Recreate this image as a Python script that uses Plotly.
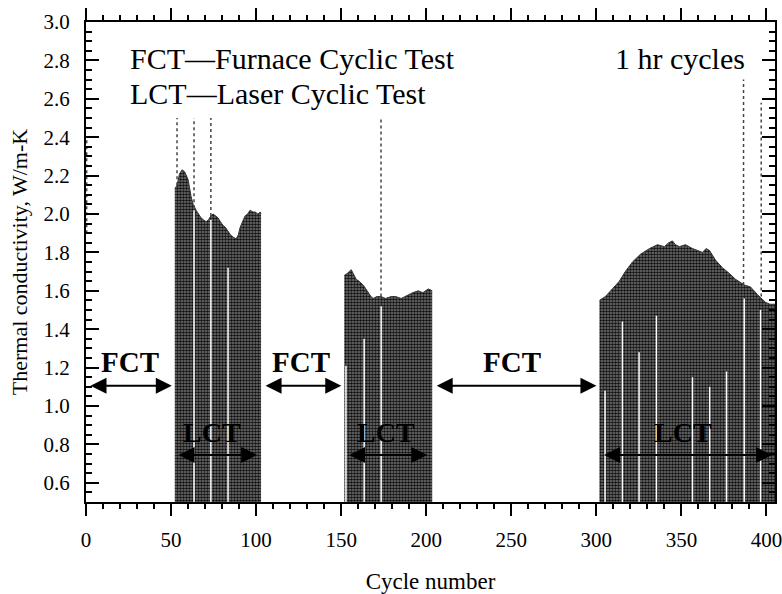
import plotly.graph_objects as go

# ---- data ----
block1_x = [52.2, 53.5, 55.0, 56.5, 58.0, 60.0, 61.8, 63.0, 64.7, 66.0, 67.6, 69.0, 70.6, 72.0, 73.4, 74.7, 76.0, 77.6, 79.0, 80.6, 82.0, 83.5, 85.0, 86.5, 88.2, 89.5, 90.6, 92.0, 93.5, 95.0, 96.5, 98.2, 99.5, 101.0, 102.4, 102.9]
block1_y = [2.13, 2.15, 2.21, 2.23, 2.22, 2.18, 2.09, 2.05, 2.02, 2.00, 1.98, 1.97, 1.96, 1.97, 1.99, 2.00, 1.99, 1.98, 1.96, 1.94, 1.93, 1.91, 1.89, 1.88, 1.87, 1.89, 1.93, 1.96, 1.99, 2.00, 2.02, 2.01, 2.01, 2.00, 2.01, 2.00]

block2_x = [151.8, 153.5, 155.9, 157.5, 158.8, 160.5, 162.9, 164.5, 165.9, 167.5, 168.8, 171.0, 173.5, 176.0, 179.4, 182.0, 185.3, 187.5, 189.4, 192.0, 195.3, 198.0, 201.2, 203.5]
block2_y = [1.68, 1.69, 1.71, 1.68, 1.66, 1.65, 1.63, 1.61, 1.59, 1.57, 1.56, 1.57, 1.57, 1.56, 1.57, 1.57, 1.56, 1.57, 1.58, 1.59, 1.60, 1.59, 1.61, 1.60]

block3_x = [301.8, 305.3, 309.4, 313.5, 317.0, 321.2, 325.9, 331.2, 335.9, 340.0, 342.5, 344.7, 346.5, 348.8, 352.4, 356.5, 359.5, 362.4, 364.5, 366.5, 370.0, 374.1, 378.2, 381.8, 387.0, 390.6, 394.7, 399.4, 402.0, 405.0]
block3_y = [1.55, 1.57, 1.61, 1.65, 1.70, 1.75, 1.79, 1.82, 1.84, 1.83, 1.85, 1.86, 1.84, 1.83, 1.84, 1.82, 1.81, 1.80, 1.82, 1.81, 1.76, 1.72, 1.69, 1.66, 1.63, 1.62, 1.58, 1.54, 1.53, 1.53]

# spikes (dotted lines rising above the data)
spike_x = [0.4, 53.5, 63.5, 73.4, 173.4, 386.5, 396.9]
spike_base = [1.90, 2.15, 2.03, 1.99, 1.57, 1.63, 1.57]
spike_top = [2.40, 2.50, 2.50, 2.50, 2.50, 2.70, 2.58]

# white gaps in the data
gap_x = [63.5, 73.4, 83.5, 152.8, 163.5, 173.5, 305.1, 315.3, 325.1, 335.3, 356.5, 366.6, 376.5, 386.9, 396.5]
gap_top = [2.02, 1.97, 1.72, 1.21, 1.35, 1.52, 1.08, 1.44, 1.28, 1.47, 1.15, 1.10, 1.18, 1.56, 1.50]

# test-phase spans
fct_spans = [(0.0, 52.2), (102.9, 151.8), (203.5, 301.8)]
lct_spans = [(51.8, 102.4), (152.0, 202.4), (301.8, 405.0)]
fct_y, lct_y = 1.105, 0.745
fct_label_x = [26.0, 126.5, 250.6]
lct_label_x = [74.0, 176.5, 351.0]

x_ticks = [0, 50, 100, 150, 200, 250, 300, 350, 400]
y_ticks = [0.6, 0.8, 1.0, 1.2, 1.4, 1.6, 1.8, 2.0, 2.2, 2.4, 2.6, 2.8, 3.0]

FONT = "Liberation Serif"
fig = go.Figure()

fill_pattern = dict(shape=".", fgcolor="#111111", bgcolor="#7a7a7a", size=3, solidity=0.6, fillmode="replace")
for bx, by in [(block1_x, block1_y), (block2_x, block2_y), (block3_x, block3_y)]:
    fig.add_trace(go.Scatter(x=bx, y=by, mode="lines", fill="tozeroy",
                             line=dict(color="#333333", width=1),
                             fillcolor="#444444", fillpattern=fill_pattern,
                             showlegend=False, hoverinfo="skip"))

for gx, gt in zip(gap_x, gap_top):
    fig.add_trace(go.Scatter(x=[gx, gx], y=[0.5, gt], mode="lines",
                             line=dict(color="white", width=1.5),
                             showlegend=False, hoverinfo="skip"))

for sx, sb, st in zip(spike_x, spike_base, spike_top):
    fig.add_trace(go.Scatter(x=[sx, sx], y=[sb, st], mode="lines",
                             line=dict(color="#444444", width=1.5, dash="dot"),
                             showlegend=False, hoverinfo="skip"))

ann = []
for spans, yy in [(fct_spans, fct_y), (lct_spans, lct_y)]:
    for (x0, x1) in spans:
        ann.append(dict(x=x1, y=yy, ax=x0, ay=yy, xref="x", yref="y", axref="x", ayref="y",
                        text="", showarrow=True, arrowhead=2, startarrowhead=2, arrowside="end+start",
                        arrowsize=1.6, startarrowsize=1.6, arrowwidth=2, arrowcolor="black",
                        standoff=3, startstandoff=3))
for lx in fct_label_x:
    ann.append(dict(x=lx, y=1.23, xref="x", yref="y", text="<b>FCT</b>", showarrow=False,
                    font=dict(family=FONT, size=29, color="black")))
for lx in lct_label_x:
    ann.append(dict(x=lx, y=0.86, xref="x", yref="y", text="<b>LCT</b>", showarrow=False,
                    font=dict(family=FONT, size=28, color="black")))
ann.append(dict(x=24.7, y=2.81, xref="x", yref="y", xanchor="left", text="FCT\u2014Furnace Cyclic Test",
                showarrow=False, font=dict(family=FONT, size=30, color="black")))
ann.append(dict(x=24.7, y=2.63, xref="x", yref="y", xanchor="left", text="LCT\u2014Laser Cyclic Test",
                showarrow=False, font=dict(family=FONT, size=30, color="black")))
ann.append(dict(x=310, y=2.81, xref="x", yref="y", xanchor="left", text="1 hr cycles",
                showarrow=False, font=dict(family=FONT, size=30, color="black")))

fig.update_layout(
    width=782, height=594,
    margin=dict(l=86, r=7, t=22, b=92),
    plot_bgcolor="white", paper_bgcolor="white",
    font=dict(family=FONT, size=21, color="black"),
    annotations=ann,
    showlegend=False,
)
fig.update_xaxes(range=[0, 405], tickvals=x_ticks, ticks="outside", ticklen=12, tickwidth=2,
                 tickcolor="black", showline=True, linecolor="black", linewidth=2, mirror="allticks",
                 showgrid=False, zeroline=False, tickfont=dict(family=FONT, size=21),
                 ticklabelstandoff=6, automargin=False, ticklabeloverflow="allow",
                 minor=dict(dtick=10, ticks="outside", ticklen=5, tickwidth=1.5, tickcolor="black", showgrid=False),
                 title=dict(text="Cycle number", font=dict(family=FONT, size=23), standoff=22))
fig.update_yaxes(range=[0.5, 3.0], tickvals=y_ticks, tickformat=".1f", ticks="inside", ticklen=13,
                 tickwidth=2, tickcolor="black", showline=True, linecolor="black", linewidth=2,
                 mirror="allticks", showgrid=False, zeroline=False, tickfont=dict(family=FONT, size=21),
                 ticklabelstandoff=10, automargin=False, ticklabeloverflow="allow",
                 minor=dict(dtick=0.05, tick0=0.5, ticks="inside", ticklen=6, tickwidth=1.5, tickcolor="black", showgrid=False),
                 title=dict(text="Thermal conductivity, W/m-K", font=dict(family=FONT, size=22), standoff=10))

fig.write_html("out.html", config={"displayModeBar": False},
               post_script="document.body.style.margin='0';document.body.style.overflow='hidden';")
